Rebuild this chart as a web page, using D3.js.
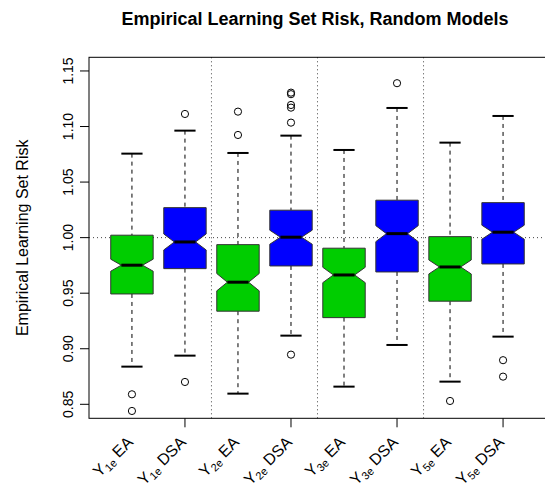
<!DOCTYPE html>
<html>
<head>
<meta charset="utf-8">
<script src="https://cdn.jsdelivr.net/npm/d3@7"></script>
<style>
body { margin: 0; background: #fff; }
text { font-family: "Liberation Sans", Arial, sans-serif; }
</style>
</head>
<body>
<div class="chart"></div>
<script>
// group names and method labels
const groups = ['1e', '1e', '2e', '2e', '3e', '3e', '5e', '5e'];
const methods = ['EA', 'DSA', 'EA', 'DSA', 'EA', 'DSA', 'EA', 'DSA'];
const fills = ['#00cd00', '#0000ff', '#00cd00', '#0000ff', '#00cd00', '#0000ff', '#00cd00', '#0000ff'];

// five number summaries
const whiskerLo = [0.8839, 0.8938, 0.8596, 0.9118, 0.8659, 0.9034, 0.8704, 0.9109];
const q1 =        [0.9493, 0.9721, 0.9338, 0.9745, 0.9280, 0.9691, 0.9428, 0.9763];
const median =    [0.9752, 0.9961, 0.9599, 1.0004, 0.9664, 1.0036, 0.9736, 1.0049];
const q3 =        [1.0022, 1.0270, 0.9937, 1.0247, 0.9905, 1.0337, 1.0009, 1.0315];
const whiskerHi = [1.0756, 1.0963, 1.0762, 1.0918, 1.0789, 1.1167, 1.0855, 1.1095];
const notch =     [0.0054, 0.0072, 0.0078, 0.0063, 0.0069, 0.0072, 0.0063, 0.0063];
const outliers = [
  [0.8590, 0.8440],
  [1.1113, 0.8701],
  [1.1134, 1.0924],
  [1.1305, 1.1291, 1.1194, 1.1170, 1.1035, 0.8947],
  [],
  [1.1390],
  [0.8530],
  [0.8897, 0.8749]
];
const yTicks = [0.85, 0.90, 0.95, 1.00, 1.05, 1.10, 1.15];

let margin = { top: 57.3, left: 89 },
    width = 545 - margin.left + 1,
    height = 418.3 - margin.top;

let svg = d3.select('.chart').append('svg')
  .attr('width', 545)
  .attr('height', 487);

let g = svg.append('g')
  .attr('transform', 'translate(' + margin.left + ',' + margin.top + ')');

let x = d3.scaleLinear().domain([0.19, 8.81]).range([0, width]);
let y = d3.scaleLinear().domain([0.8374, 1.1623]).range([height, 0]);

const boxW = 0.4; // half width in position units

// reference lines
g.append('line')
  .attr('x1', 0).attr('x2', width)
  .attr('y1', y(1)).attr('y2', y(1))
  .attr('stroke', '#444').attr('stroke-dasharray', '1,3');

[2.5, 4.5, 6.5].forEach(p => {
  g.append('line')
    .attr('x1', x(p)).attr('x2', x(p))
    .attr('y1', 0).attr('y2', height)
    .attr('stroke', '#444').attr('stroke-dasharray', '1,3');
});

const idx = d3.range(8);

idx.forEach(i => {
  let cx = i + 1;
  // whiskers
  g.append('line')
    .attr('x1', x(cx)).attr('x2', x(cx))
    .attr('y1', y(whiskerHi[i])).attr('y2', y(q3[i]))
    .attr('stroke', '#000').attr('stroke-dasharray', '4,4');
  g.append('line')
    .attr('x1', x(cx)).attr('x2', x(cx))
    .attr('y1', y(q1[i])).attr('y2', y(whiskerLo[i]))
    .attr('stroke', '#000').attr('stroke-dasharray', '4,4');
  // staples
  [whiskerHi[i], whiskerLo[i]].forEach(v => {
    g.append('line')
      .attr('x1', x(cx - boxW / 2)).attr('x2', x(cx + boxW / 2))
      .attr('y1', y(v)).attr('y2', y(v))
      .attr('stroke', '#000').attr('stroke-width', 2);
  });
  // notched box
  let pts = [
    [cx - boxW, q1[i]], [cx - boxW, median[i] - notch[i]], [cx - boxW / 2, median[i]],
    [cx - boxW, median[i] + notch[i]], [cx - boxW, q3[i]], [cx + boxW, q3[i]],
    [cx + boxW, median[i] + notch[i]], [cx + boxW / 2, median[i]],
    [cx + boxW, median[i] - notch[i]], [cx + boxW, q1[i]]
  ];
  g.append('path')
    .attr('d', d3.line().x(d => x(d[0])).y(d => y(d[1]))(pts) + 'Z')
    .attr('fill', fills[i])
    .attr('stroke', '#333')
    .attr('stroke-width', 1);
  // median
  g.append('line')
    .attr('x1', x(cx - boxW / 2)).attr('x2', x(cx + boxW / 2))
    .attr('y1', y(median[i])).attr('y2', y(median[i]))
    .attr('stroke', '#000').attr('stroke-width', 3);
  // outliers
  g.selectAll(null)
    .data(outliers[i])
    .join('circle')
    .attr('cx', x(cx))
    .attr('cy', d => y(d))
    .attr('r', 3.6)
    .attr('fill', 'none')
    .attr('stroke', '#000');
});

// frame
g.append('rect')
  .attr('x', 0).attr('y', 0)
  .attr('width', width).attr('height', height)
  .attr('fill', 'none').attr('stroke', '#000');

// y axis
yTicks.forEach(t => {
  g.append('line')
    .attr('x1', -9).attr('x2', 0)
    .attr('y1', y(t)).attr('y2', y(t))
    .attr('stroke', '#000');
  g.append('text')
    .attr('transform', 'translate(' + (-16) + ',' + y(t) + ') rotate(-90)')
    .attr('text-anchor', 'middle')
    .attr('font-size', 14)
    .text(t.toFixed(2));
});

// x ticks at the DSA boxes
[2, 4, 6, 8].forEach(p => {
  g.append('line')
    .attr('x1', x(p)).attr('x2', x(p))
    .attr('y1', height).attr('y2', height + 9)
    .attr('stroke', '#000');
});

// rotated group labels
idx.forEach(i => {
  let t = g.append('text')
    .attr('transform', 'translate(' + (x(i + 1) + 2) + ',' + (height + 25) + ') rotate(-45)')
    .attr('text-anchor', 'end')
    .attr('font-size', 16);
  t.append('tspan').text('Y');
  t.append('tspan').attr('font-size', 11).attr('dy', 3).text(groups[i]);
  t.append('tspan').attr('dy', -3).text(' ' + methods[i]);
});

// titles
svg.append('text')
  .attr('x', 315).attr('y', 25)
  .attr('text-anchor', 'middle')
  .attr('font-size', 18)
  .attr('font-weight', 'bold')
  .text('Empirical Learning Set Risk, Random Models');

svg.append('text')
  .attr('transform', 'translate(28,' + (margin.top + height / 2) + ') rotate(-90)')
  .attr('text-anchor', 'middle')
  .attr('font-size', 16)
  .text('Empirical Learning Set Risk');
</script>
</body>
</html>
